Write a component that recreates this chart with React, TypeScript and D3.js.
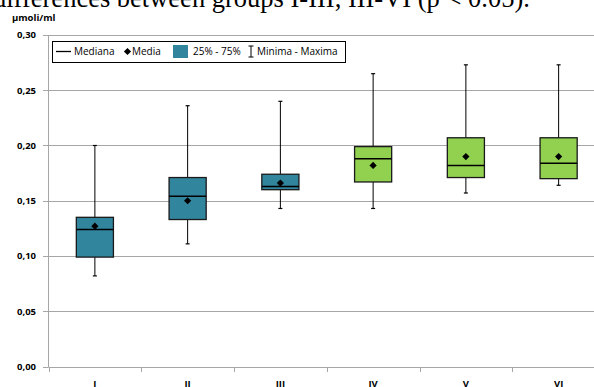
import React from "react";
import * as d3 from "d3";

// Group labels and summary statistics (µmoli/ml)
const categories = ["I", "II", "III", "IV", "V", "VI"];
const minima = [0.082, 0.111, 0.143, 0.143, 0.157, 0.164];
const q1 = [0.099, 0.133, 0.160, 0.167, 0.171, 0.170];
const medians = [0.124, 0.154, 0.163, 0.188, 0.182, 0.184];
const means = [0.127, 0.150, 0.166, 0.182, 0.190, 0.190];
const q3 = [0.135, 0.171, 0.174, 0.199, 0.207, 0.207];
const maxima = [0.200, 0.236, 0.240, 0.265, 0.273, 0.273];
const groupTone = ["teal", "teal", "teal", "green", "green", "green"];
const yTicks = [0, 0.05, 0.1, 0.15, 0.2, 0.25, 0.3];

const W = 594;
const H = 387;
const TEAL = "#31859c";
const GREEN = "#92d050";
const GRID = "#a6a6a6";
const FONT = "'Open Sans', sans-serif";

const fmt = d3
  .formatLocale({ decimal: ",", thousands: ".", grouping: [3], currency: ["", ""] })
  .format(".2f");

export default function App() {
  const x = d3.scaleBand<string>().domain(categories).range([48.5, 605]).padding(0);
  const y = d3.scaleLinear().domain([0, 0.3]).range([366.5, 35]);
  const bw = x.bandwidth() * 0.4;
  // mean marker: a square turned 45° so both diagonals are equal
  const diamond = d3.symbol().type(d3.symbolSquare).size(26)();
  const legendY = 51.5;

  return (
    <svg
      width={W}
      height={H}
      style={{ position: "absolute", left: 0, top: 0, background: "#fff" }}
      fontFamily={FONT}
    >
      {/* caption line above the chart */}
      <text x={-7} y={6.5} fontFamily="'Liberation Serif', 'Times New Roman', serif" fontSize={26.5} fill="#000">
        differences between groups I-III, III-VI (p &lt; 0.05).
      </text>

      {/* unit label */}
      <text x={12} y={21} fontSize={9.5} fontWeight="bold" fill="#000">
        µmoli/ml
      </text>

      {/* horizontal gridlines and y ticks */}
      {yTicks.map((t) => (
        <g key={t}>
          <line x1={x.range()[0]} x2={W} y1={Math.round(y(t)) + 0.5} y2={Math.round(y(t)) + 0.5} stroke={GRID} strokeWidth={1} />
          <line x1={43} x2={x.range()[0]} y1={Math.round(y(t)) + 0.5} y2={Math.round(y(t)) + 0.5} stroke={GRID} strokeWidth={1} />
          <text x={36} y={y(t)} dy="0.35em" textAnchor="end" fontSize={9.5} fontWeight="bold" fill="#000">
            {fmt(t)}
          </text>
        </g>
      ))}

      {/* y axis line */}
      <line x1={x.range()[0]} x2={x.range()[0]} y1={y(0.3)} y2={y(0) + 0.5} stroke={GRID} strokeWidth={1} />

      {/* x axis ticks between categories */}
      {categories.map((c) => (
        <line
          key={"t" + c}
          x1={Math.round(x(c)!) + 0.5}
          x2={Math.round(x(c)!) + 0.5}
          y1={Math.round(y(0))}
          y2={Math.round(y(0)) + 5}
          stroke={GRID}
          strokeWidth={1}
        />
      ))}

      {/* category labels */}
      {categories.map((c) => (
        <text
          key={"l" + c}
          x={x(c)! + x.bandwidth() / 2}
          y={387}
          textAnchor="middle"
          fontSize={9.5}
          fontWeight="bold"
          fill="#000"
        >
          {c}
        </text>
      ))}

      {/* box plots */}
      {categories.map((c, i) => {
        const cx = x(c)! + x.bandwidth() / 2;
        const fill = groupTone[i] === "teal" ? TEAL : GREEN;
        return (
          <g key={"b" + c}>
            <line x1={cx} x2={cx} y1={y(maxima[i])} y2={y(minima[i])} stroke="#000" strokeWidth={1} />
            <line x1={cx - 2} x2={cx + 2} y1={y(maxima[i])} y2={y(maxima[i])} stroke="#000" strokeWidth={1.2} />
            <line x1={cx - 2} x2={cx + 2} y1={y(minima[i])} y2={y(minima[i])} stroke="#000" strokeWidth={1.2} />
            <rect
              x={cx - bw / 2}
              y={y(q3[i])}
              width={bw}
              height={y(q1[i]) - y(q3[i])}
              fill={fill}
              stroke="#1a1a1a"
              strokeWidth={1.3}
            />
            <line x1={cx - bw / 2} x2={cx + bw / 2} y1={y(medians[i])} y2={y(medians[i])} stroke="#000" strokeWidth={1.5} />
            <path d={diamond!} transform={`translate(${cx},${y(means[i])}) rotate(45)`} fill="#000" />
          </g>
        );
      })}

      {/* legend */}
      <g>
        <rect x={52.5} y={41.5} width={293} height={21} fill="#fff" stroke="#000" strokeWidth={1} />
        <line x1={56} x2={71} y1={legendY} y2={legendY} stroke="#000" strokeWidth={1.3} />
        <text x={74} y={legendY} dy="0.35em" fontSize={10} fill="#000">Mediana</text>
        <path d={diamond!} transform={`translate(127.5,${legendY}) rotate(45)`} fill="#000" />
        <text x={132} y={legendY} dy="0.35em" fontSize={10} fill="#000">Media</text>
        <rect x={173} y={45} width={15} height={13} fill={TEAL} />
        <text x={193} y={legendY} dy="0.35em" fontSize={10} fill="#000">25% - 75%</text>
        <line x1={251} x2={251} y1={46} y2={57} stroke="#000" strokeWidth={1} />
        <line x1={248.5} x2={253.5} y1={46} y2={46} stroke="#000" strokeWidth={1} />
        <line x1={248.5} x2={253.5} y1={57} y2={57} stroke="#000" strokeWidth={1} />
        <text x={257} y={legendY} dy="0.35em" fontSize={10} fill="#000">Minima - Maxima</text>
      </g>
    </svg>
  );
}
